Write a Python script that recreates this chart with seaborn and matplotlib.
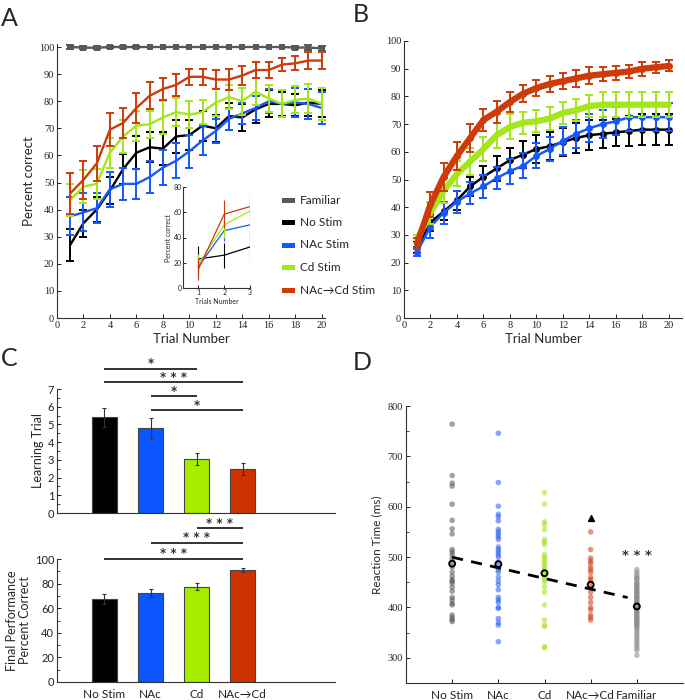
import numpy as np
import pandas as pd
import matplotlib
matplotlib.use('Agg')
import matplotlib.pyplot as plt
import seaborn as sns
from matplotlib.patches import Rectangle

# ---------------- data ----------------
trials = list(range(1, 21))

# Panel A: percent correct per trial (mean, sem)
A_familiar = [100, 99.8, 99.7, 100, 100, 100, 100, 100, 100, 100, 100, 100, 100, 100, 100, 100, 100, 99.8, 99.8, 99.5]
A_familiar_err = [0.6, 0.4, 0.5, 0.3, 0.3, 0.3, 0, 0, 0, 0, 0, 0, 0, 0, 0, 0, 0, 0.5, 0.8, 1.0]
A_nostim = [27, 35, 40, 47, 55, 61, 63, 62.5, 67, 67.5, 71, 70, 74.5, 74, 77, 79, 79, 78.5, 79.5, 79]
A_nostim_err = [6, 5, 4.5, 5, 5.5, 6, 5.5, 6, 6, 5.5, 5.5, 5, 5, 5, 5, 5, 4.5, 4, 5, 5]
A_nac = [37.5, 39, 40.5, 47.5, 49.5, 49.5, 52, 55.5, 58, 61.5, 65.5, 69, 73.5, 75.5, 77.5, 80, 79, 79.5, 79, 77.5]
A_nac_err = [7, 7, 5.5, 6.5, 6, 5.5, 6, 6.5, 6.5, 6, 5.5, 4.5, 4, 4, 4.5, 4.5, 5, 5.5, 5.5, 6]
A_cd = [43.5, 48.5, 49.5, 61, 67, 71, 71.5, 74, 76, 75, 76, 79.5, 81.5, 80, 83.5, 81, 79, 80.5, 81, 79]
A_cd_err = [6, 6, 5.5, 5.5, 6, 5.5, 5, 6, 5, 5, 4.5, 5, 4.5, 5, 5, 5, 5, 5, 5.5, 6]
A_nacd = [46, 51, 57, 69.5, 72, 77.5, 82, 84.5, 86, 89, 89, 88, 88, 89.5, 91.5, 91.5, 93.5, 94, 95, 95]
A_nacd_err = [7.5, 7, 6.5, 6, 5.5, 5.5, 5, 4, 4, 3, 3, 3.5, 4, 3.5, 3, 3, 2.5, 2.5, 3, 3]

# Panel A inset (first 3 trials)
inset_trials = [1, 2, 3]
In_nostim = [23, 26, 32.5]
In_nostim_err = [10, 10, 10]
In_nac = [17, 45.5, 50]
In_nac_err = [8, 8, 12]
In_cd = [19, 50, 61]
In_cd_err = [8, 10, 8]
In_nacd = [15, 58.5, 64.5]
In_nacd_err = [9, 11, 11]

# Panel B: fitted learning curves
B_nostim = [25.5, 34.5, 38.5, 42.5, 47.5, 51, 54, 57, 59, 61, 62, 63.5, 65, 66, 66.5, 67, 67.5, 68, 68, 68]
B_nostim_err = [2, 3, 3, 3.5, 3.5, 4, 4.5, 4.5, 5, 5, 5, 5, 5.5, 5.5, 5, 5, 5.5, 5.5, 5.5, 5.5]
B_nac = [24, 33, 38, 42, 45, 47.5, 50.5, 53, 55, 58.5, 61, 64, 66.5, 68.5, 70, 71, 72.5, 72.5, 72.5, 72.5]
B_nac_err = [1.5, 4, 4, 4, 4, 4, 4, 4.5, 4.5, 4.5, 4.5, 5, 5, 5, 5, 5, 5, 5, 5, 5]
B_cd = [28.5, 38, 46, 52, 56.5, 61, 66, 69, 70.5, 71, 72, 74, 75, 76.5, 77, 77, 77, 77, 77, 77]
B_cd_err = [1.5, 4, 4.5, 4.5, 5, 4.5, 4.5, 4.5, 4, 4, 4, 4, 4, 4, 4.5, 4.5, 4.5, 4.5, 4.5, 4.5]
B_nacd = [27, 41, 51, 58.5, 65, 71.5, 74.5, 78, 81, 83, 84.5, 85.5, 86.5, 87.5, 88, 88.5, 89, 90, 90.5, 91]
B_nacd_err = [2, 4.5, 5, 5, 5, 4, 4, 3.5, 3, 3, 3, 3, 3, 3, 2.5, 2.5, 2.5, 2.5, 2, 2]

# Panel C
C_groups = ['No Stim', 'NAc', 'Cd', 'NAc→Cd']
C_learning = [5.4, 4.8, 3.05, 2.5]
C_learning_err = [0.55, 0.55, 0.35, 0.33]
C_final = [67.5, 72.5, 77.5, 91]
C_final_err = [4, 3.5, 3, 1.5]

# Panel D: reaction times
D_groups = ['No Stim', 'NAc', 'Cd', 'NAc→Cd', 'Familiar']
D_nostim = [764, 662, 647, 641, 605, 573, 556, 546, 515, 510, 505, 498, 490, 480, 470, 462, 455,
            452, 448, 440, 432, 420, 415, 408, 405, 385, 380, 376, 372]
D_nac = [746, 648, 601, 585, 580, 572, 555, 550, 545, 540, 535, 520, 515, 510, 505, 500, 490, 480,
         475, 470, 460, 452, 445, 435, 420, 415, 410, 400, 398, 378, 370, 365, 332]
D_cd = [628, 605, 570, 565, 555, 535, 530, 525, 505, 500, 495, 490, 485, 480, 475, 470, 465, 460,
        455, 450, 440, 430, 405, 375, 365, 362, 322, 320]
D_nacd = [550, 515, 498, 492, 488, 480, 475, 470, 460, 455, 450, 440, 430, 420, 410, 400, 395,
          385, 380, 375]
D_familiar = [475, 470, 465, 460, 458, 455, 450, 448, 445, 442, 440, 438, 435, 432, 430, 428, 425,
              422, 420, 418, 415, 412, 410, 408, 405, 402, 400, 398, 395, 392, 390, 388, 385, 382,
              380, 378, 375, 372, 370, 368, 365, 362, 360, 355, 350, 345, 340, 335, 330, 325, 320,
              315, 305]
D_means = [487, 486, 468, 445, 402]
D_outlier = 578

# ---------------- style ----------------
COL = {'Familiar': '#595959', 'No Stim': '#000000', 'NAc Stim': '#1558ff',
       'Cd Stim': '#a3e61a', 'NAc→Cd Stim': '#d03a08'}
COLC = {'No Stim': '#000000', 'NAc': '#0a55ff', 'Cd': '#a6ee00', 'NAc→Cd': '#cc3300'}
COLD = {'No Stim': '#555555', 'NAc': '#2a5cf0', 'Cd': '#9fe31c', 'NAc→Cd': '#d03a14', 'Familiar': '#8a8a8a'}

sns.set_theme(style='ticks')
plt.rcParams['font.family'] = ['Lato', 'DejaVu Sans']
SERIF = ['Liberation Serif', 'DejaVu Serif']

W, H = 685, 700
fig = plt.figure(figsize=(W / 100, H / 100), dpi=100)


def rect(l, r, top, bot):
    return [l / W, 1 - bot / H, (r - l) / W, (bot - top) / H]


def style_ax(ax, serif=True, fs=7.5):
    sns.despine(ax=ax)
    for s in ['left', 'bottom']:
        ax.spines[s].set_linewidth(0.8)
        ax.spines[s].set_color('#333333')
    ax.tick_params(direction='in', length=3, width=0.7, labelsize=fs, pad=2, colors='#222222')
    ax.tick_params(which='minor', direction='in', length=2, width=0.6)
    if serif:
        for lab in ax.get_xticklabels() + ax.get_yticklabels():
            lab.set_family(SERIF)


# ---------------- Panel A ----------------
axA = fig.add_axes(rect(57, 325, 44.3, 318))
seriesA = [('Familiar', A_familiar, A_familiar_err), ('No Stim', A_nostim, A_nostim_err),
           ('NAc Stim', A_nac, A_nac_err), ('Cd Stim', A_cd, A_cd_err),
           ('NAc→Cd Stim', A_nacd, A_nacd_err)]
dfA = pd.concat([pd.DataFrame({'trial': trials, 'pct': v, 'err': e, 'group': g}) for g, v, e in seriesA])
for g, v, e in seriesA:
    d = dfA[dfA.group == g]
    mk = 's' if g == 'Familiar' else None
    sns.lineplot(data=d, x='trial', y='pct', color=COL[g], lw=1.7, marker=mk, markersize=4,
                 markeredgewidth=0, ax=axA, legend=False)
    axA.errorbar(d.trial, d.pct, yerr=d.err, fmt='none', ecolor=COL[g], elinewidth=1.4,
                 capsize=2.6, capthick=1.4)
axA.set_xlim(0, 20.25)
axA.set_ylim(0, 101)
axA.set_xticks(range(0, 21, 2))
axA.set_yticks(range(0, 101, 10))
axA.set_xlabel('Trial Number', fontsize=9.5, labelpad=2)
axA.set_ylabel('Percent correct', fontsize=9.5, labelpad=3)
style_ax(axA)

# inset
axI = fig.add_axes(rect(183, 250, 187, 288))
seriesI = [('No Stim', In_nostim, In_nostim_err), ('NAc Stim', In_nac, In_nac_err),
           ('Cd Stim', In_cd, In_cd_err), ('NAc→Cd Stim', In_nacd, In_nacd_err)]
dfI = pd.concat([pd.DataFrame({'trial': inset_trials, 'pct': v, 'err': e, 'group': g}) for g, v, e in seriesI])
sns.lineplot(data=dfI, x='trial', y='pct', hue='group', palette=COL, lw=0.9, ax=axI, legend=False)
for g, v, e in seriesI:
    axI.errorbar(inset_trials, v, yerr=e, fmt='none', ecolor=COL[g], elinewidth=0.8, capsize=0)
axI.set_xlim(0.4, 3.0)
axI.set_ylim(0, 80)
axI.set_xticks([1, 2, 3])
axI.set_yticks([0, 20, 40, 60, 80])
axI.set_xlabel('Trials Number', fontsize=5, labelpad=1)
axI.set_ylabel('Percent correct', fontsize=5, labelpad=1)
style_ax(axI, serif=False, fs=5)
axI.tick_params(length=2, pad=1)

# legend (manual)
leg_rows = [200, 222.5, 245, 267.5, 290]
for (g, _, _), yy in zip(seriesA, leg_rows):
    fig.add_artist(Rectangle((282 / W, 1 - (yy + 2.5) / H), 13 / W, 5 / H,
                             transform=fig.transFigure, color=COL[g], lw=0))
    fig.text(300 / W, 1 - yy / H, g, fontsize=8.5, va='center', ha='left', color='#222222')

# ---------------- Panel B ----------------
axB = fig.add_axes(rect(404, 682, 41, 318))
seriesB = [('No Stim', B_nostim, B_nostim_err, 1.8, 'o'), ('NAc Stim', B_nac, B_nac_err, 1.8, 'o'),
           ('Cd Stim', B_cd, B_cd_err, 4.5, None), ('NAc→Cd Stim', B_nacd, B_nacd_err, 4.5, 'o')]
dfB = pd.concat([pd.DataFrame({'trial': trials, 'pct': v, 'err': e, 'group': g}) for g, v, e, _, _ in seriesB])
for g, v, e, lw, mk in seriesB:
    d = dfB[dfB.group == g]
    sns.lineplot(data=d, x='trial', y='pct', color=COL[g], lw=lw, marker=mk, markersize=5,
                 markeredgewidth=0, ax=axB, legend=False)
    axB.errorbar(d.trial, d.pct, yerr=d.err, fmt='none', ecolor=COL[g], elinewidth=1.4,
                 capsize=2.8, capthick=1.4)
axB.set_xlim(0, 21)
axB.set_ylim(0, 100)
axB.set_xticks(range(0, 21, 2))
axB.set_yticks(range(0, 101, 10))
axB.set_xlabel('Trial Number', fontsize=9.5, labelpad=2)
axB.set_ylabel('')
style_ax(axB)

# ---------------- Panel C ----------------
def sig(ax, x1, x2, y, ty, txt, fs=8.5):
    ax.plot([x1, x2], [y, y], color='#222222', lw=1.3, clip_on=False, solid_capstyle='butt')
    ax.text((x1 + x2) / 2, ty, txt, ha='center', va='center', fontsize=fs, clip_on=False,
            color='#333333', family=['DejaVu Sans'], fontweight='bold')

dfC = pd.DataFrame({'group': C_groups, 'learn': C_learning, 'lerr': C_learning_err,
                    'final': C_final, 'ferr': C_final_err})

axC1 = fig.add_axes(rect(57, 335, 389, 513))
sns.barplot(data=dfC, x='group', y='learn', hue='group', palette=COLC, width=0.54, saturation=1,
            edgecolor='#444444', linewidth=0.8, errorbar=None, ax=axC1, legend=False)
axC1.errorbar(range(4), C_learning, yerr=C_learning_err, fmt='none', ecolor='#333333',
              elinewidth=0.8, capsize=1.3, capthick=0.8)
axC1.set_xlim(-1.03, 5)
axC1.set_ylim(0, 7)
axC1.set_yticks(range(0, 8))
axC1.set_yticks(np.arange(0.5, 7, 1), minor=True)
axC1.set_xticks([])
axC1.set_xlabel('')
axC1.set_ylabel('Learning Trial', fontsize=9, labelpad=3)
style_ax(axC1, serif=False, fs=8)
sig(axC1, 0, 2, 8.13, 8.42, '*')
sig(axC1, 0, 3, 7.38, 7.67, '* * *')
sig(axC1, 1, 2, 6.58, 6.87, '*')
sig(axC1, 1, 3, 5.79, 6.08, '*')

axC2 = fig.add_axes(rect(57, 335, 559, 682))
sns.barplot(data=dfC, x='group', y='final', hue='group', palette=COLC, width=0.54, saturation=1,
            edgecolor='#444444', linewidth=0.8, errorbar=None, ax=axC2, legend=False)
axC2.errorbar(range(4), C_final, yerr=C_final_err, fmt='none', ecolor='#333333',
              elinewidth=0.8, capsize=1.3, capthick=0.8)
axC2.set_xlim(-1.03, 5)
axC2.set_ylim(0, 100)
axC2.set_yticks(range(0, 101, 20))
axC2.set_yticks(range(10, 100, 20), minor=True)
axC2.set_xticks(range(4))
axC2.set_xticklabels(C_groups)
axC2.set_xlabel('')
axC2.set_ylabel('Final Performance\nPercent Correct', fontsize=9, labelpad=3, linespacing=1.1)
style_ax(axC2, serif=False, fs=8)
axC2.tick_params(axis='x', labelsize=8.5, pad=5, length=0)
sig(axC2, 0, 3, 100.3, 104.5, '* * *')
sig(axC2, 1, 3, 113.3, 117.5, '* * *')
sig(axC2, 2, 3, 125, 129.2, '* * *')

# ---------------- Panel D ----------------
axD = fig.add_axes(rect(406, 683, 406, 683))
D_lists = [D_nostim, D_nac, D_cd, D_nacd, D_familiar]
dfD = pd.concat([pd.DataFrame({'pos': i + 1, 'rt': v, 'group': g})
                 for i, (g, v) in enumerate(zip(D_groups, D_lists))])
sns.scatterplot(data=dfD, x='pos', y='rt', hue='group', palette=COLD, s=16, alpha=0.55,
                edgecolor='none', ax=axD, legend=False)
pos = np.arange(1, 6)
coef = np.polyfit(pos, D_means, 1)
xx = np.array([1.0, 4.8])
axD.plot(xx, np.polyval(coef, xx), ls=(0, (4, 3)), color='black', lw=2)
axD.scatter(pos, D_means, s=18, facecolor='none', edgecolor='black', linewidths=1.4, zorder=5)
axD.scatter([4], [D_outlier], marker='^', s=18, color='black', zorder=5)
axD.text(5, 503, '* * *', ha='center', va='center', fontsize=9.5, color='#333333',
         family=['DejaVu Sans'], fontweight='bold')
axD.set_xlim(0, 6)
axD.set_ylim(250, 800)
axD.set_xticks(pos)
axD.set_xticklabels(D_groups)
axD.set_yticks(range(300, 801, 100))
axD.set_yticks(range(350, 800, 100), minor=True)
axD.set_xlabel('')
axD.set_ylabel('Reaction Time (ms)', fontsize=8.5, labelpad=4)
style_ax(axD)
axD.tick_params(axis='x', labelsize=8.5, pad=5)
for lab in axD.get_xticklabels():
    lab.set_family(['Lato', 'DejaVu Sans'])

# panel letters
for txt, x, y in [('A', 1, 18), ('B', 353, 15), ('C', 1, 358), ('D', 353, 362)]:
    fig.text(x / W, 1 - y / H, txt, fontsize=18, va='center', ha='left')

fig.savefig('out.png', dpi=100)
